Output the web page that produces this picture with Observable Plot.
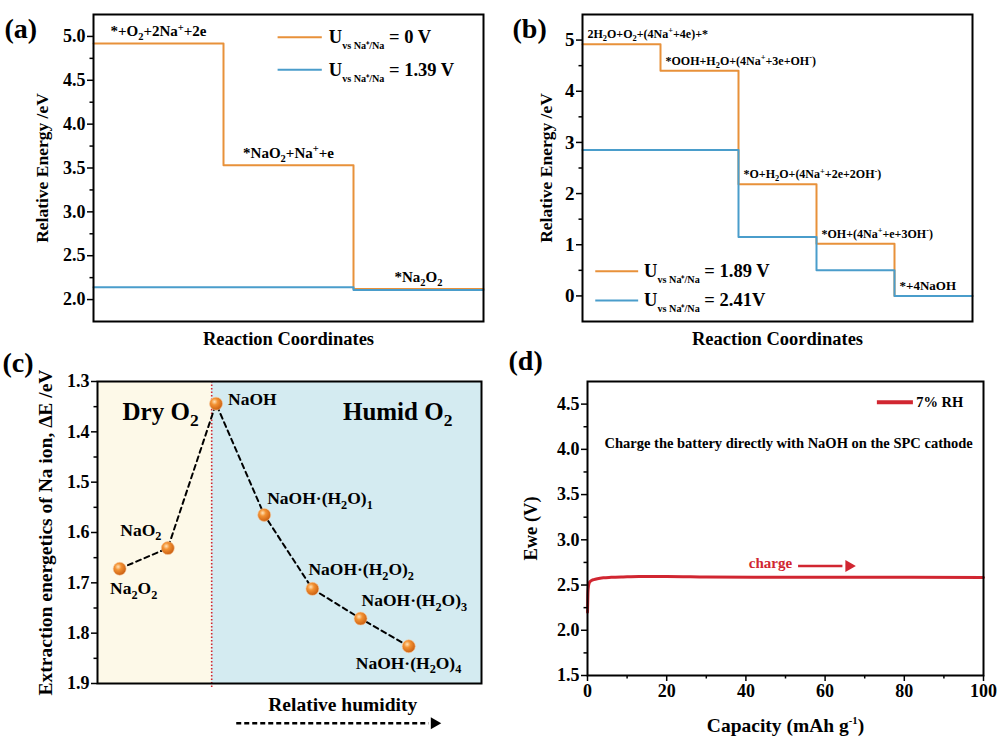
<!DOCTYPE html>
<html><head><meta charset="utf-8">
<script src="https://cdn.jsdelivr.net/npm/d3@7"></script>
<script src="https://cdn.jsdelivr.net/npm/@observablehq/plot@0.6"></script>
<style>
body{margin:0;background:#fff;}
#fig{position:relative;width:1000px;height:737px;overflow:hidden;background:#fff;}
#fig svg{position:absolute;left:0;top:0;}
</style></head><body><div id="fig"></div>
<script>
// ---------------- data ----------------
// (a)
const aSteps = [0, 1, 2, 3];
const aOrange = [4.92, 3.53, 2.12, 2.12];
const aBlue = [2.14, 2.14, 2.11, 2.11];
const aStates = ["*+O_2+2Na^++2e", "*NaO_2+Na^++e", "*Na_2O_2"];
const aLegend = ["U_{vs Na⁺/Na} = 0 V", "U_{vs Na⁺/Na} = 1.39 V"];
const aTicks = [2.0, 2.5, 3.0, 3.5, 4.0, 4.5, 5.0];
// (b)
const bSteps = [0, 1, 2, 3, 4, 5];
const bOrange = [4.92, 4.40, 2.18, 1.02, 0, 0];
const bBlue = [2.85, 2.85, 1.15, 0.50, 0, 0];
const bStates = ["2H_2O+O_2+(4Na^++4e)+*", "*OOH+H_2O+(4Na^++3e+OH^-)", "*O+H_2O+(4Na^++2e+2OH^-)", "*OH+(4Na^++e+3OH^-)", "*+4NaOH"];
const bLegend = ["U_{vs Na⁺/Na} = 1.89 V", "U_{vs Na⁺/Na} = 2.41V"];
const bTicks = [0, 1, 2, 3, 4, 5];
// (c)
const cSpecies = ["Na_2O_2", "NaO_2", "NaOH", "NaOH·(H_2O)_1", "NaOH·(H_2O)_2", "NaOH·(H_2O)_3", "NaOH·(H_2O)_4"];
const cEnergy = [1.672, 1.631, 1.344, 1.565, 1.712, 1.771, 1.826];
const cRegions = ["Dry O_2", "Humid O_2"];
const cTicks = [1.3, 1.4, 1.5, 1.6, 1.7, 1.8, 1.9];
// (d)
const dCapacity = [0, 0.05, 0.1, 0.2, 0.35, 0.6, 1, 1.6, 2.5, 4, 6, 9, 13, 20, 30, 45, 60, 80, 100];
const dVoltage = [2.20, 2.30, 2.40, 2.47, 2.51, 2.535, 2.55, 2.56, 2.57, 2.58, 2.585, 2.59, 2.595, 2.595, 2.59, 2.587, 2.585, 2.585, 2.583];
const dXTicks = [0, 20, 40, 60, 80, 100];
const dYTicks = [1.5, 2.0, 2.5, 3.0, 3.5, 4.0, 4.5];

// ---------------- styling ----------------
const ORANGE = "#E8913A", BLUE = "#4A9DCB", RED = "#D12631";
const TICK = 18;
const common = {
  width: 1000, height: 737,
  color: {type: "identity"},
  style: {fontFamily: "'Liberation Serif','Times New Roman',serif", fontWeight: "bold", background: "transparent", overflow: "visible", color: "black"}
};
const mid = (t) => d3.pairs(t, (a, b) => (a + b) / 2);
function yAxes(ticks, fmt, fontSize) {
  return [
    Plot.axisY({ticks, tickFormat: fmt, tickSize: 6, tickPadding: 2, fontSize, label: null, strokeWidth: 1.5}),
    Plot.axisY({ticks: mid(ticks), tickFormat: () => "", tickSize: 3.5, label: null, strokeWidth: 1.5})
  ];
}
const yLabel = (t, dx, fontSize) => Plot.text([t], {frameAnchor: "left", rotate: -90, dx, textAnchor: "middle", fontSize});
const frame = () => Plot.frame({stroke: "black", strokeWidth: 2});

const fig = document.getElementById("fig");

// ---------------- (a) ----------------
{
  const tab = aSteps.map((s, i) => ({s, o: aOrange[i], b: aBlue[i]}));
  const lab = aStates.map((t, i) => ({t, x: aSteps[i] + 0.5, y: aOrange[i]}));
  const leg = aLegend.map((t, i) => ({t, y: [4.99, 4.62][i], c: [ORANGE, BLUE][i]}));
  fig.append(Plot.plot({
    ...common,
    marginLeft: 93, marginRight: 517, marginTop: 14, marginBottom: 416,
    x: {domain: [0, 3], axis: null},
    y: {domain: [1.75, 5.25]},
    marks: [
      Plot.line(tab, {x: "s", y: "o", curve: "step-after", stroke: ORANGE, strokeWidth: 2}),
      Plot.line(tab, {x: "s", y: "b", curve: "step-after", stroke: BLUE, strokeWidth: 2}),
      Plot.text(lab, {x: "x", y: "y", text: "t", dy: -12, fontSize: 15}),
      Plot.ruleY(leg, {y: "y", x1: 1.42, x2: 1.76, stroke: "c", strokeWidth: 2}),
      Plot.text(leg, {x: 1.81, y: "y", text: "t", textAnchor: "start", fontSize: 18.5}),
      ...yAxes(aTicks, d3.format(".1f"), TICK),
      yLabel("Relative Energy /eV", -51, 17.5),
      Plot.text(["Reaction Coordinates"], {frameAnchor: "bottom", dy: 23, fontSize: 18.5}),
      Plot.text(["(a)"], {frameAnchor: "top-left", dx: -89, dy: 4, textAnchor: "start", fontSize: 28}),
      frame()
    ]
  }));
}

// ---------------- (b) ----------------
{
  const tab = bSteps.map((s, i) => ({s, o: bOrange[i], b: bBlue[i]}));
  const lab = bStates.map((t, i) => ({t, x: bSteps[i], y: bOrange[i], f: i === 4 ? 13 : 12}));
  const leg = bLegend.map((t, i) => ({t, y: [0.48, -0.09][i], c: [ORANGE, BLUE][i]}));
  fig.append(Plot.plot({
    ...common,
    marginLeft: 582, marginRight: 28, marginTop: 14, marginBottom: 416,
    x: {domain: [0, 5], axis: null},
    y: {domain: [-0.5, 5.5]},
    marks: [
      Plot.line(tab, {x: "s", y: "o", curve: "step-after", stroke: ORANGE, strokeWidth: 2}),
      Plot.line(tab, {x: "s", y: "b", curve: "step-after", stroke: BLUE, strokeWidth: 2}),
      Plot.text(lab, {x: "x", y: "y", text: "t", dx: 5, dy: -10, textAnchor: "start", fontSize: "f"}),
      Plot.ruleY(leg, {y: "y", x1: 0.17, x2: 0.72, stroke: "c", strokeWidth: 2}),
      Plot.text(leg, {x: 0.79, y: "y", text: "t", textAnchor: "start", fontSize: 18.5}),
      ...yAxes(bTicks, d3.format("d"), TICK + 1),
      yLabel("Relative Energy /eV", -36, 17.5),
      Plot.text(["Reaction Coordinates"], {frameAnchor: "bottom", dy: 23, fontSize: 18.5}),
      Plot.text(["(b)"], {frameAnchor: "top-left", dx: -70, dy: 4, textAnchor: "start", fontSize: 28}),
      frame()
    ]
  }));
}

// ---------------- (c) ----------------
{
  const tab = cSpecies.map((s, i) => ({i, s, e: cEnergy[i]}));
  const split = 1.91;
  const bg = [{x1: -0.46, x2: split, f: "#FDF9E8"}, {x1: split, x2: 7.51, f: "#D4EBF1"}];
  const reg = cRegions.map((t, i) => ({t, x: [0.85, 5.77][i]}));
  const off = [[14, 20, "middle"], [-27, -18, "middle"], [12, -4, "start"], [3, -16, "start"], [-4, -19, "start"], [1, -18, "start"], [-53, 17, "start"]];
  const svg = Plot.plot({
    ...common,
    marginLeft: 97, marginRight: 519, marginTop: 381, marginBottom: 54,
    x: {domain: [-0.46, 7.51], axis: null},
    y: {domain: [1.3, 1.9], reverse: true},
    marks: [
      Plot.rect(bg, {x1: "x1", x2: "x2", y1: 1.3, y2: 1.9, fill: "f"}),
      Plot.ruleX([split], {y1: 1.3, y2: 1.908, stroke: RED, strokeDasharray: "1.5,2", strokeWidth: 1.6}),
      Plot.line(tab, {x: "i", y: "e", stroke: "black", strokeDasharray: "5,4", strokeWidth: 2}),
      Plot.dot(tab, {x: "i", y: "e", r: 6.5, fill: "url(#ball)", stroke: "#f6c79a", strokeWidth: 0.6}),
      ...tab.map((d, k) => Plot.text([d], {x: "i", y: "e", text: "s", dx: off[k][0], dy: off[k][1], textAnchor: off[k][2], fontSize: 17.5})),
      Plot.text(reg, {x: "x", y: 1.36, text: "t", fontSize: 25}),
      ...yAxes(cTicks, d3.format(".1f"), TICK),
      yLabel("Extraction energetics of Na ion, ΔE /eV", -52, 19.5),
      Plot.text(["Relative humidity"], {x: 4.63, y: 1.943, fontSize: 19.5}),
      Plot.ruleY([1.979], {x1: 2.43, x2: 6.42, stroke: "black", strokeDasharray: "5,3", strokeWidth: 2.5}),
      Plot.dot([1.979], {x: 6.53, y: (d) => d, symbol: "triangle", rotate: 90, r: 4.5, fill: "black"}),
      Plot.text(["(c)"], {frameAnchor: "top-left", dx: -95, dy: -29, textAnchor: "start", fontSize: 28}),
      frame()
    ]
  });
  d3.select(svg).insert("defs", ":first-child").html(
    `<radialGradient id="ball" cx="38%" cy="35%" r="70%"><stop offset="0%" stop-color="#ffe3b8"/><stop offset="35%" stop-color="#f39233"/><stop offset="100%" stop-color="#c65a0e"/></radialGradient>`);
  fig.append(svg);
}

// ---------------- (d) ----------------
{
  const tab = dCapacity.map((c, i) => ({c, v: dVoltage[i]}));
  fig.append(Plot.plot({
    ...common,
    marginLeft: 587, marginRight: 17, marginTop: 381, marginBottom: 62,
    x: {domain: [0, 100]},
    y: {domain: [1.5, 4.75]},
    marks: [
      Plot.line(tab, {x: "c", y: "v", stroke: RED, strokeWidth: 3, curve: "monotone-x"}),
      Plot.ruleY([4.52], {x1: 73.2, x2: 82.3, stroke: RED, strokeWidth: 4}),
      Plot.text(["7% RH"], {x: 83, y: 4.52, textAnchor: "start", fontSize: 14.5}),
      Plot.text(["Charge the battery directly with NaOH on the SPC cathode"], {x: 50.8, y: 4.07, fontSize: 14.5}),
      Plot.text(["charge"], {x: 46.2, y: 2.74, fill: RED, fontSize: 15}),
      Plot.ruleY([2.71], {x1: 53.3, x2: 64.5, stroke: RED, strokeWidth: 2.5}),
      Plot.dot([2.71], {x: 66, y: (d) => d, symbol: "triangle", rotate: 90, r: 4.5, fill: RED}),
      Plot.axisX({ticks: dXTicks, tickSize: 6, tickPadding: 3, fontSize: TICK, label: null, strokeWidth: 1.5}),
      Plot.axisX({ticks: mid(dXTicks), tickFormat: () => "", tickSize: 3.5, label: null, strokeWidth: 1.5}),
      ...yAxes(dYTicks, d3.format(".1f"), TICK),
      yLabel("Ewe (V)", -56, 18.5),
      Plot.text(["Capacity (mAh g^{-1})"], {frameAnchor: "bottom", dy: 56, fontSize: 19.5}),
      Plot.text(["(d)"], {frameAnchor: "top-left", dx: -79, dy: -31, textAnchor: "start", fontSize: 28}),
      frame()
    ]
  }));
}

// ---------------- rich text: sub/superscripts ----------------
function rich(el) {
  const s = el.textContent;
  if (!/[_^]/.test(s)) return;
  const fs = parseFloat(getComputedStyle(el).fontSize) || 12;
  const re = /([_^])(?:\{([^}]*)\}|(.))/g;
  const parts = []; let last = 0, m;
  while ((m = re.exec(s))) {
    if (m.index > last) parts.push({t: s.slice(last, m.index)});
    parts.push({t: m[2] != null ? m[2] : m[3], k: m[1], brace: m[2] != null});
    last = re.lastIndex;
  }
  if (last < s.length) parts.push({t: s.slice(last)});
  el.textContent = "";
  let cur = 0;
  for (const p of parts) {
    const ts = document.createElementNS("http://www.w3.org/2000/svg", "tspan");
    ts.textContent = p.t;
    let target = 0;
    if (p.k) {
      ts.setAttribute("font-size", fs * (p.brace ? 0.55 : 0.7));
      target = p.k === "_" ? fs * (p.brace ? 0.32 : 0.26) : -fs * 0.38;
    }
    if (target !== cur) ts.setAttribute("dy", target - cur);
    cur = target;
    el.appendChild(ts);
  }
}
fig.querySelectorAll("text").forEach(rich);
</script></body></html>
